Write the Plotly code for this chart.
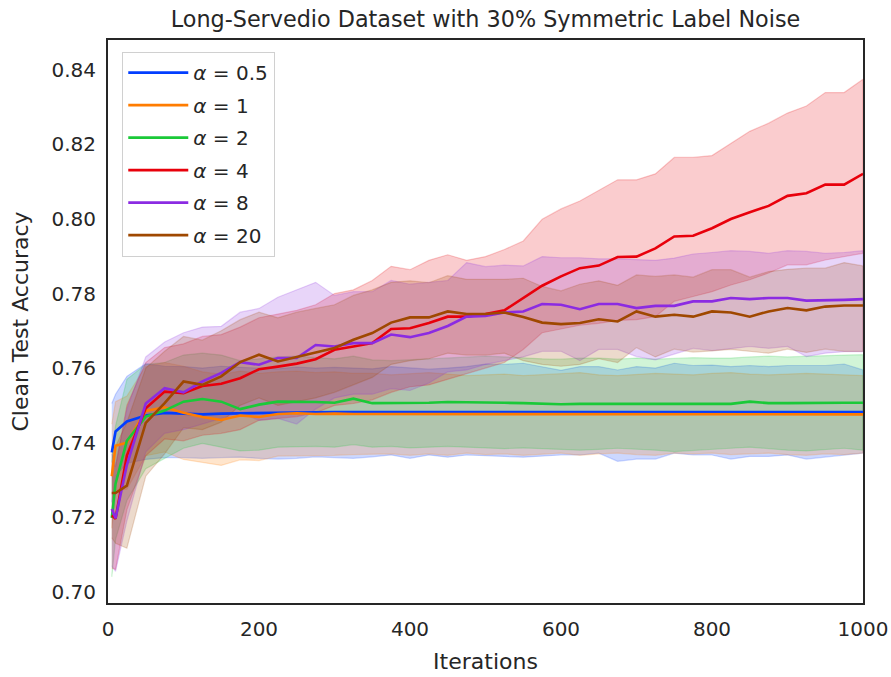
import plotly.graph_objects as go

# Training iterations at which clean test accuracy was evaluated
ITER = [5, 10, 25, 50, 75, 100, 125, 150, 175, 200, 225, 250, 275, 300, 325, 350,
        375, 400, 425, 450, 475, 500, 525, 550, 575, 600, 625, 650, 675, 700, 725,
        750, 775, 800, 825, 850, 875, 900, 925, 950, 975, 1000]

LABELS = ["0.5", "1", "2", "4", "8", "20"]
COLORS = ["#023eff", "#ff7c00", "#1ac938", "#e8000b", "#8b2be2", "#9f4800"]

# alpha = 0.5
a05_mean = [0.7374, 0.7430, 0.7457, 0.7473, 0.7480, 0.7477, 0.7476, 0.7478, 0.7479, 0.7478,
            0.7480, 0.7481, 0.7481, 0.7482, 0.7482, 0.7483, 0.7482, 0.7482, 0.7483, 0.7482,
            0.7482, 0.7482, 0.7482, 0.7482, 0.7482, 0.7481, 0.7482, 0.7482, 0.7482, 0.7482,
            0.7482, 0.7482, 0.7482, 0.7482, 0.7482, 0.7482, 0.7482, 0.7482, 0.7482, 0.7482,
            0.7482, 0.7482]
a05_hi = [0.7505, 0.7530, 0.7578, 0.7612, 0.7605, 0.7604, 0.7600, 0.7605, 0.7602, 0.7600,
          0.7598, 0.7603, 0.7600, 0.7602, 0.7600, 0.7598, 0.7604, 0.7600, 0.7597, 0.7600,
          0.7604, 0.7611, 0.7610, 0.7613, 0.7604, 0.7594, 0.7604, 0.7604, 0.7595, 0.7604,
          0.7600, 0.7613, 0.7607, 0.7608, 0.7604, 0.7607, 0.7604, 0.7607, 0.7607, 0.7607,
          0.7611, 0.7595]
a05_lo = [0.7240, 0.7310, 0.7345, 0.7355, 0.7360, 0.7360, 0.7358, 0.7360, 0.7361, 0.7358,
          0.7356, 0.7358, 0.7362, 0.7360, 0.7358, 0.7362, 0.7367, 0.7358, 0.7367, 0.7361,
          0.7367, 0.7365, 0.7363, 0.7361, 0.7363, 0.7367, 0.7367, 0.7372, 0.7350, 0.7356,
          0.7356, 0.7372, 0.7367, 0.7367, 0.7356, 0.7363, 0.7363, 0.7367, 0.7356, 0.7363,
          0.7367, 0.7372]

# alpha = 1
a1_mean = [0.7310, 0.7392, 0.7400, 0.7485, 0.7495, 0.7480, 0.7469, 0.7461, 0.7473, 0.7469,
           0.7477, 0.7479, 0.7477, 0.7478, 0.7477, 0.7477, 0.7476, 0.7476, 0.7477, 0.7476,
           0.7476, 0.7477, 0.7476, 0.7476, 0.7476, 0.7477, 0.7476, 0.7476, 0.7476, 0.7476,
           0.7476, 0.7476, 0.7476, 0.7476, 0.7476, 0.7476, 0.7476, 0.7476, 0.7476, 0.7476,
           0.7476, 0.7476]
a1_hi = [0.7450, 0.7510, 0.7525, 0.7605, 0.7615, 0.7605, 0.7590, 0.7583, 0.7592, 0.7586,
         0.7590, 0.7592, 0.7588, 0.7590, 0.7586, 0.7586, 0.7582, 0.7586, 0.7588, 0.7584,
         0.7580, 0.7582, 0.7584, 0.7580, 0.7582, 0.7585, 0.7588, 0.7582, 0.7580, 0.7584,
         0.7586, 0.7584, 0.7582, 0.7586, 0.7588, 0.7584, 0.7582, 0.7584, 0.7586, 0.7584,
         0.7582, 0.7580]
a1_lo = [0.7170, 0.7272, 0.7275, 0.7365, 0.7375, 0.7355, 0.7348, 0.7339, 0.7354, 0.7352,
         0.7364, 0.7366, 0.7366, 0.7366, 0.7368, 0.7368, 0.7370, 0.7366, 0.7370, 0.7366,
         0.7372, 0.7368, 0.7370, 0.7366, 0.7370, 0.7372, 0.7366, 0.7370, 0.7372, 0.7368,
         0.7366, 0.7372, 0.7370, 0.7372, 0.7368, 0.7370, 0.7372, 0.7368, 0.7366, 0.7370,
         0.7368, 0.7372]

# alpha = 2
a2_mean = [0.7198, 0.7290, 0.7405, 0.7470, 0.7486, 0.7510, 0.7517, 0.7510, 0.7490, 0.7502,
           0.7510, 0.7510, 0.7509, 0.7507, 0.7518, 0.7506, 0.7506, 0.7506, 0.7507, 0.7509,
           0.7509, 0.7509, 0.7507, 0.7506, 0.7504, 0.7503, 0.7504, 0.7504, 0.7505, 0.7505,
           0.7504, 0.7504, 0.7504, 0.7504, 0.7504, 0.7510, 0.7506, 0.7506, 0.7507, 0.7507,
           0.7507, 0.7507]
a2_hi = [0.7350, 0.7445, 0.7570, 0.7610, 0.7615, 0.7635, 0.7640, 0.7635, 0.7620, 0.7626,
         0.7630, 0.7632, 0.7628, 0.7625, 0.7632, 0.7622, 0.7620, 0.7622, 0.7625, 0.7627,
         0.7630, 0.7632, 0.7630, 0.7627, 0.7625, 0.7624, 0.7627, 0.7627, 0.7624, 0.7627,
         0.7624, 0.7626, 0.7628, 0.7627, 0.7627, 0.7630, 0.7632, 0.7630, 0.7632, 0.7634,
         0.7635, 0.7636]
a2_lo = [0.7040, 0.7140, 0.7245, 0.7330, 0.7357, 0.7385, 0.7398, 0.7388, 0.7378, 0.7380,
         0.7388, 0.7388, 0.7390, 0.7388, 0.7395, 0.7388, 0.7390, 0.7386, 0.7388, 0.7390,
         0.7388, 0.7386, 0.7384, 0.7386, 0.7384, 0.7382, 0.7380, 0.7382, 0.7385, 0.7382,
         0.7380, 0.7376, 0.7380, 0.7382, 0.7385, 0.7388, 0.7385, 0.7380, 0.7378, 0.7382,
         0.7385, 0.7380]

# alpha = 4
a4_mean = [0.7205, 0.7196, 0.7365, 0.7492, 0.7537, 0.7533, 0.7552, 0.7558, 0.7573, 0.7597,
           0.7604, 0.7612, 0.7624, 0.7649, 0.7658, 0.7667, 0.7705, 0.7707, 0.7721, 0.7738,
           0.7738, 0.7745, 0.7755, 0.7788, 0.7821, 0.7846, 0.7868, 0.7875, 0.7898, 0.7899,
           0.7921, 0.7953, 0.7955, 0.7975, 0.8000, 0.8018, 0.8035, 0.8062, 0.8069, 0.8092,
           0.8092, 0.8121]
a4_hi = [0.7350, 0.7335, 0.7500, 0.7615, 0.7655, 0.7665, 0.7685, 0.7690, 0.7710, 0.7735,
         0.7745, 0.7755, 0.7770, 0.7800, 0.7810, 0.7835, 0.7873, 0.7864, 0.7889, 0.7904,
         0.7889, 0.7899, 0.7918, 0.7941, 0.7999, 0.8027, 0.8048, 0.8076, 0.8105, 0.8105,
         0.8121, 0.8165, 0.8165, 0.8170, 0.8202, 0.8235, 0.8257, 0.8284, 0.8303, 0.8339,
         0.8339, 0.8375]
a4_lo = [0.7064, 0.7060, 0.7220, 0.7365, 0.7410, 0.7405, 0.7420, 0.7425, 0.7435, 0.7460,
         0.7465, 0.7470, 0.7480, 0.7500, 0.7505, 0.7515, 0.7535, 0.7550, 0.7555, 0.7570,
         0.7585, 0.7600, 0.7615, 0.7650, 0.7695, 0.7705, 0.7715, 0.7720, 0.7728, 0.7730,
         0.7738, 0.7779, 0.7792, 0.7805, 0.7823, 0.7837, 0.7855, 0.7877, 0.7877, 0.7890,
         0.7898, 0.7908]

# alpha = 8
a8_mean = [0.7222, 0.7197, 0.7340, 0.7505, 0.7546, 0.7535, 0.7564, 0.7587, 0.7616, 0.7609,
           0.7627, 0.7627, 0.7662, 0.7658, 0.7667, 0.7667, 0.7690, 0.7683, 0.7694, 0.7713,
           0.7738, 0.7740, 0.7749, 0.7752, 0.7772, 0.7770, 0.7758, 0.7772, 0.7772, 0.7761,
           0.7767, 0.7767, 0.7779, 0.7779, 0.7788, 0.7785, 0.7788, 0.7788, 0.7781, 0.7781,
           0.7783, 0.7785]
a8_hi = [0.7370, 0.7340, 0.7490, 0.7630, 0.7670, 0.7695, 0.7710, 0.7712, 0.7750, 0.7760,
         0.7790, 0.7810, 0.7830, 0.7795, 0.7805, 0.7805, 0.7835, 0.7825, 0.7829, 0.7835,
         0.7883, 0.7872, 0.7876, 0.7874, 0.7899, 0.7896, 0.7896, 0.7893, 0.7893, 0.7891,
         0.7889, 0.7895, 0.7906, 0.7910, 0.7915, 0.7913, 0.7908, 0.7915, 0.7913, 0.7908,
         0.7910, 0.7915]
a8_lo = [0.7070, 0.7055, 0.7190, 0.7375, 0.7425, 0.7435, 0.7450, 0.7465, 0.7480, 0.7460,
         0.7465, 0.7450, 0.7490, 0.7520, 0.7530, 0.7530, 0.7545, 0.7540, 0.7560, 0.7590,
         0.7595, 0.7610, 0.7620, 0.7630, 0.7645, 0.7645, 0.7620, 0.7650, 0.7650, 0.7631,
         0.7622, 0.7638, 0.7653, 0.7647, 0.7652, 0.7658, 0.7653, 0.7658, 0.7631, 0.7640,
         0.7644, 0.7644]

# alpha = 20
a20_mean = [0.7265, 0.7265, 0.7285, 0.7453, 0.7506, 0.7564, 0.7555, 0.7578, 0.7616, 0.7636,
            0.7618, 0.7631, 0.7642, 0.7654, 0.7676, 0.7694, 0.7722, 0.7736, 0.7736, 0.7752,
            0.7745, 0.7745, 0.7749, 0.7737, 0.7722, 0.7718, 0.7721, 0.7731, 0.7725, 0.7752,
            0.7738, 0.7743, 0.7738, 0.7752, 0.7749, 0.7738, 0.7752, 0.7761, 0.7755, 0.7765,
            0.7768, 0.7768]
a20_hi = [0.7390, 0.7390, 0.7455, 0.7600, 0.7645, 0.7685, 0.7675, 0.7700, 0.7730, 0.7750,
          0.7735, 0.7750, 0.7760, 0.7770, 0.7795, 0.7810, 0.7830, 0.7834, 0.7829, 0.7848,
          0.7838, 0.7838, 0.7838, 0.7841, 0.7819, 0.7807, 0.7825, 0.7834, 0.7822, 0.7850,
          0.7846, 0.7850, 0.7844, 0.7864, 0.7864, 0.7844, 0.7859, 0.7865, 0.7868, 0.7868,
          0.7883, 0.7874]
a20_lo = [0.7145, 0.7130, 0.7117, 0.7310, 0.7370, 0.7440, 0.7435, 0.7455, 0.7500, 0.7520,
          0.7500, 0.7510, 0.7520, 0.7535, 0.7555, 0.7575, 0.7610, 0.7620, 0.7625, 0.7640,
          0.7635, 0.7635, 0.7640, 0.7620, 0.7610, 0.7605, 0.7610, 0.7625, 0.7615, 0.7655,
          0.7630, 0.7651, 0.7643, 0.7646, 0.7650, 0.7646, 0.7640, 0.7651, 0.7642, 0.7651,
          0.7645, 0.7645]

MEANS = [a05_mean, a1_mean, a2_mean, a4_mean, a8_mean, a20_mean]
HIS = [a05_hi, a1_hi, a2_hi, a4_hi, a8_hi, a20_hi]
LOS = [a05_lo, a1_lo, a2_lo, a4_lo, a8_lo, a20_lo]

FONT = "DejaVu Sans, Verdana, sans-serif"
INK = "#262626"


def rgba(hex_color, alpha):
    h = hex_color.lstrip("#")
    r, g, b = int(h[0:2], 16), int(h[2:4], 16), int(h[4:6], 16)
    return f"rgba({r},{g},{b},{alpha})"


fig = go.Figure()

# shaded spread bands
for color, hi, lo in zip(COLORS, HIS, LOS):
    fig.add_trace(go.Scatter(
        x=ITER + ITER[::-1],
        y=hi + lo[::-1],
        fill="toself",
        fillcolor=rgba(color, 0.2),
        line=dict(color=rgba(color, 0.2), width=1.2),
        mode="lines",
        hoverinfo="skip",
        showlegend=False,
    ))

# mean curves
for i, (lab, color, mean) in enumerate(zip(LABELS, COLORS, MEANS)):
    fig.add_trace(go.Scatter(
        x=ITER,
        y=mean,
        mode="lines",
        line=dict(color=color, width=2.6),
        name=f"<i>α</i> = {lab}",
        legendgroup=f"g{i}",
    ))

axis_common = dict(
    showline=True, mirror=True, linecolor=INK, linewidth=2,
    showgrid=False, zeroline=False, automargin=False,
    ticks="outside", tickcolor="rgba(0,0,0,0)",
    tickfont=dict(family=FONT, size=20, color=INK),
)

fig.update_layout(
    width=891, height=677,
    margin=dict(l=108, r=28, t=40, b=74),
    plot_bgcolor="white", paper_bgcolor="white",
    font=dict(family=FONT, size=20, color=INK),
    title=dict(
        text="Long-Servedio Dataset with 30% Symmetric Label Noise",
        x=0.5, xref="paper", xanchor="center",
        y=1 - 19 / 677, yref="container", yanchor="middle",
        font=dict(family=FONT, size=22.3, color=INK),
    ),
    xaxis=dict(
        range=[0, 1000], tickvals=[0, 200, 400, 600, 800, 1000], ticklen=7,
        title=dict(text="Iterations", font=dict(family=FONT, size=22), standoff=14),
        **axis_common,
    ),
    yaxis=dict(
        range=[0.697, 0.848], tickvals=[0.70, 0.72, 0.74, 0.76, 0.78, 0.80, 0.82, 0.84],
        tickformat=".2f", ticklen=6,
        title=dict(text="Clean Test Accuracy", font=dict(family=FONT, size=22), standoff=17),
        **axis_common,
    ),
    legend=dict(
        x=0.0185, y=0.979, xanchor="left", yanchor="top",
        bgcolor="white", bordercolor="#d0d0d0", borderwidth=1.3,
        font=dict(family=FONT, size=20, color=INK),
        tracegroupgap=3.5, itemwidth=60,
    ),
)

fig.write_html("out.html")
